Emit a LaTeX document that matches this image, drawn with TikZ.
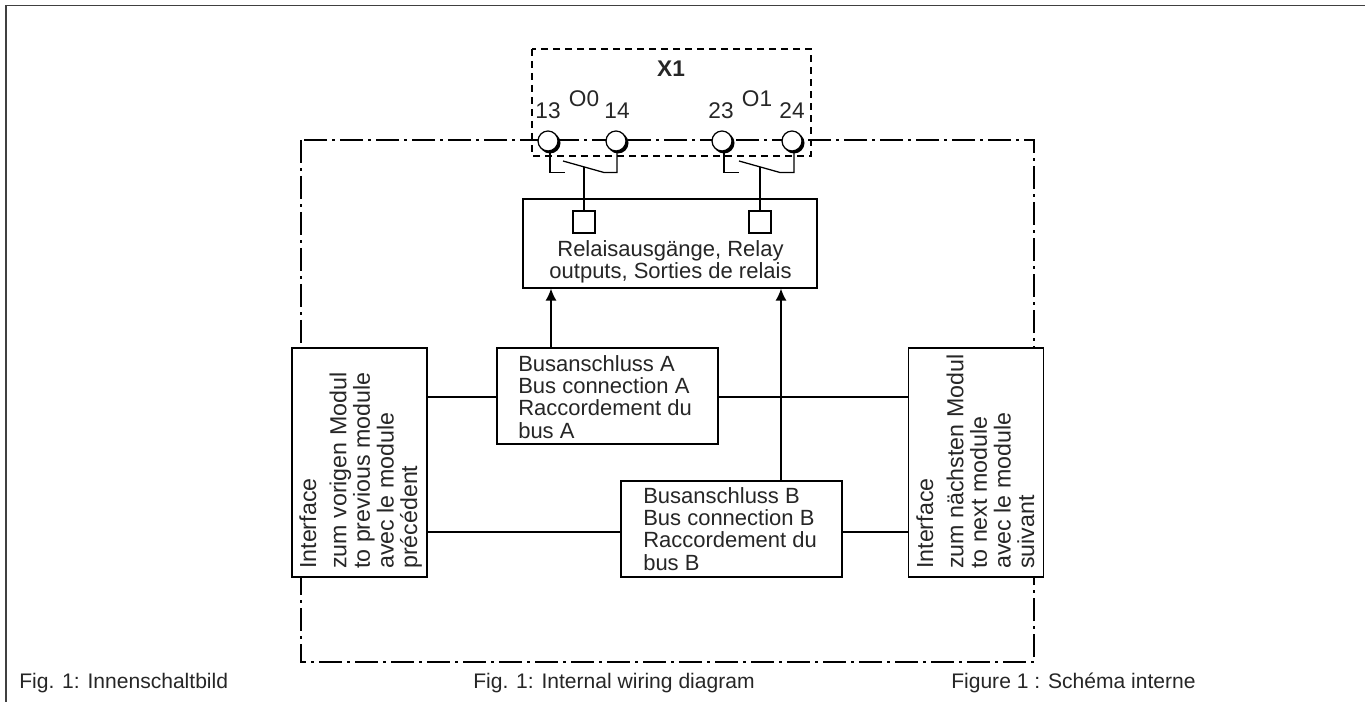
\documentclass[tikz,border=0pt]{standalone}
\usepackage{fontspec}
\setmainfont{Liberation Sans}
\usetikzlibrary{arrows.meta}
\usetikzlibrary{calc}

\tikzset{
  box/.style={draw, fill=white, line width=0.95pt, inner sep=0pt},
  txt/.style={inner sep=0pt, align=left, text=black!85, font=\fontsize{16.5}{16.6}\selectfont},
  vtxt/.style={txt, rotate=90, anchor=north west, font=\fontsize{17.4}{17.7}\selectfont},
  lbl/.style={inner sep=0pt, text=black!85, font=\fontsize{17}{19}\selectfont},
  captxt/.style={inner sep=0pt, anchor=west, text=black!85, font=\fontsize{15.8}{18}\selectfont},
  term/.style={circle, draw, fill=white, line width=0.95pt, minimum size=15pt, inner sep=0pt},
  wire/.style={line width=0.95pt},
  arr/.style={wire, -{Latex[length=9pt,width=8.25pt]}},
  mod/.style={line width=0.9pt, dash pattern=on 17.5pt off 3.7pt on 2pt off 3.8pt},
  conn/.style={line width=0.85pt, dash pattern=on 5.5pt off 3.5pt}
}

\begin{document}
\begin{tikzpicture}[x=0.75pt, y=-0.75pt]
    \useasboundingbox (0,0) rectangle (1365,702);
    % frame
    \coordinate (f0) at (6,702);
    \coordinate (f1) at (6,5.5);
    \coordinate (f2) at (1365,5.5);
    \draw[line width=0.9pt, black!75] (f0) -- (f1) -- (f2);
    % module and plug
    \draw[mod] (301,140) rectangle (1034,662);
    \draw[conn] (532,49) rectangle (811,156);
    \node[lbl, font=\fontsize{17}{19}\selectfont\bfseries] (x1) at (671,69) {X1};
    \foreach \n/\t/\x/\y in {t13/13/548/111, o0/O0/584/99, t14/14/617/111, t23/23/721/111, o1/O1/757/99, t24/24/792/111}
      \node[lbl] (\n) at (\x,\y) {\t};
    % terminals
    \foreach \n/\x in {c13/548, c14/616, c23/722, c24/792} {
      \fill[black] (\x+2,143) circle (10.5);
      \node[term] (\n) at (\x,141) {};
    }
    % boxes
    \node[box, minimum width=220.5pt, minimum height=66.75pt] (rel) at (670,243.5) {};
    \node[txt, align=center] (reltxt) at (670.5,262) {Relaisausgänge, Relay\\outputs, Sorties de relais};
    \node[box, minimum width=16.5pt, minimum height=16.5pt] (s0) at (584,222) {};
    \node[box, minimum width=16.5pt, minimum height=16.5pt] (s1) at (760,222) {};
    \node[box, minimum width=101.25pt, minimum height=171.75pt] (ifl) at (359.5,462.5) {};
    \node[vtxt] (ifltxt) at (299,569) {Interface\\[5pt]zum vorigen Modul\\to previous module\\avec le module\\précédent};
    \node[box, minimum width=101.25pt, minimum height=171.75pt] (ifr) at (976,462.5) {};
    \node[vtxt] (ifrtxt) at (916,569) {Interface\\[5pt]zum nächsten Modul\\to next module\\avec le module\\suivant};
    \node[box, minimum width=165.75pt, minimum height=72pt] (busa) at (607.5,396) {};
    \node[txt, anchor=west] (busatxt) at (518,397) {Busanschluss A\\Bus connection A\\Raccordement du\\bus A};
    \node[box, minimum width=165.75pt, minimum height=72pt] (busb) at (731.5,529) {};
    \node[txt, anchor=west] (busbtxt) at (643,529) {Busanschluss B\\Bus connection B\\Raccordement du\\bus B};
    % bus lines
    \coordinate (ya) at (0,397);
    \coordinate (yb) at (0,532);
    \foreach \i/\j/\y in {ifl.east/busa.west/ya, busa.east/ifr.west/ya, ifl.east/busb.west/yb, busb.east/ifr.west/yb}
      \draw[wire] (\i |- \y) -- (\j |- \y);
    \coordinate (xa) at (551,0);
    \coordinate (xb) at (781,0);
    \draw[arr] (xa |- busa.north) -- (xa |- rel.south);
    \draw[arr] (xb |- busb.north) -- (xb |- rel.south);
    % contacts
    \foreach \c/\d/\s/\p/\q in {c13/c14/s0/550/617, c23/c24/s1/724/794} {
      \coordinate (a) at (\p,0);
      \coordinate (b) at (\q,0);
      \coordinate (m) at (\s.north |- 0,167);
      \draw[wire] (a |- \c.south) -- (a |- 0,172.5) -- ++(14.5,0);
      \draw[wire] (b |- \d.south) -- (b |- 0,172.5) -- ($(m)+(20,5.5)$) -- ($(m)+(-21,-6)$);
      \draw[wire] (m) -- (\s.north);
    }
    % captions
    \foreach \n/\x/\t in {capa/19/Fig. 1: Innenschaltbild, capb/473/Fig. 1: Internal wiring diagram, capc/951/Figure 1 : Schéma interne}
      \node[captxt] (\n) at (\x,683) {\t};
\end{tikzpicture}
\end{document}
